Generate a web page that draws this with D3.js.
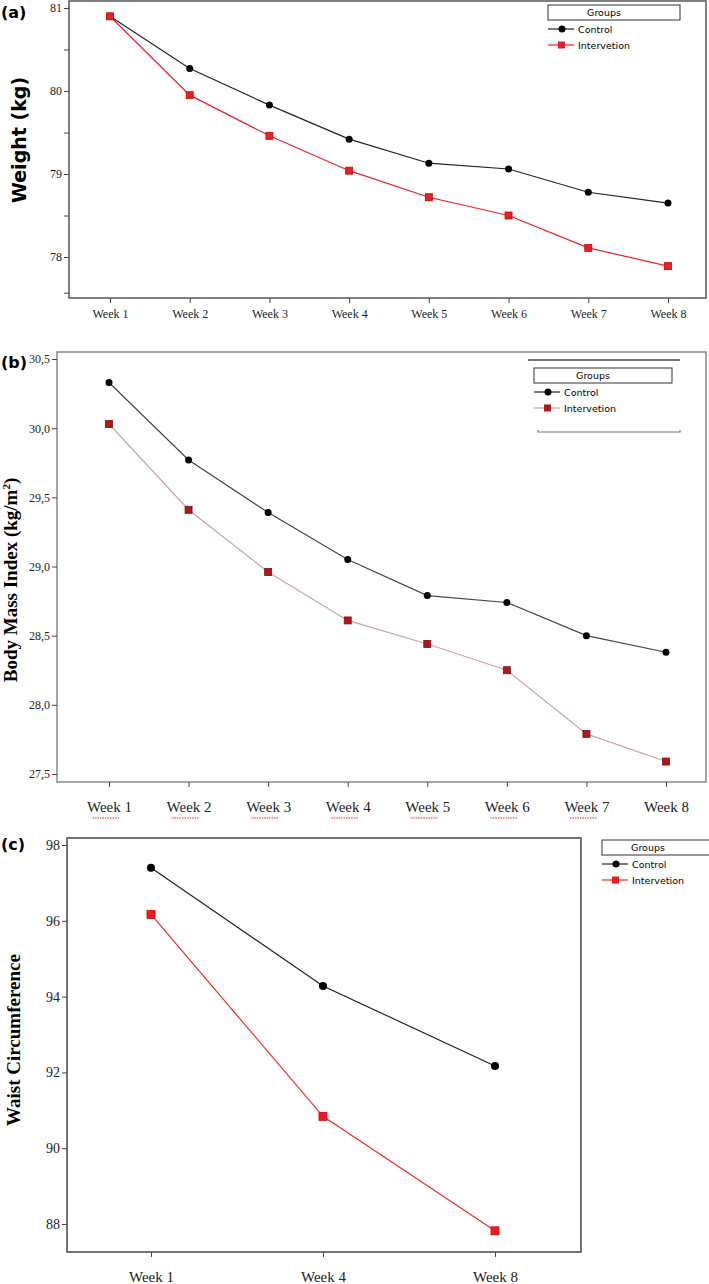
<!DOCTYPE html>
<html>
<head>
<meta charset="utf-8">
<script src="https://cdn.jsdelivr.net/npm/d3@7"></script>
<style>
  body { margin: 0; background: #fff; }
  svg { display: block; }
</style>
</head>
<body>
<div id="chart"></div>
<script>
// Data
const weeks = ['Week 1', 'Week 2', 'Week 3', 'Week 4', 'Week 5', 'Week 6', 'Week 7', 'Week 8'];
const weightControl = [80.9, 80.27, 79.83, 79.42, 79.13, 79.06, 78.78, 78.65];
const weightIntervention = [80.9, 79.95, 79.46, 79.04, 78.72, 78.5, 78.11, 77.89];
const bmiControl = [30.33, 29.77, 29.39, 29.05, 28.79, 28.74, 28.5, 28.38];
const bmiIntervention = [30.03, 29.41, 28.96, 28.61, 28.44, 28.25, 27.79, 27.59];
const waistWeeks = ['Week 1', 'Week 4', 'Week 8'];
const waistControl = [97.4, 94.28, 92.17];
const waistIntervention = [96.17, 90.84, 87.82];
const weightTicks = [81, 80, 79, 78];
const bmiTicks = [30.5, 30.0, 29.5, 29.0, 28.5, 28.0, 27.5];
const waistTicks = [98, 96, 94, 92, 90, 88];

const width = 709;
const height = 1284;

const svg = d3.select('#chart')
    .append('svg')
    .attr('width', width)
    .attr('height', height);

const serif = '"Liberation Serif", "DejaVu Serif", serif';
const sans = '"DejaVu Sans", "Liberation Sans", sans-serif';

function drawPanel(p) {
    const g = svg.append('g');

    const x = d3.scalePoint().domain(p.cats).range(p.xRange);
    const y = d3.scaleLinear().domain(p.yDomain).range(p.yRange);

    // frame
    g.append('rect')
        .attr('x', p.box[0]).attr('y', p.box[1])
        .attr('width', p.box[2] - p.box[0]).attr('height', p.box[3] - p.box[1])
        .attr('fill', 'none')
        .attr('stroke', p.frameColor)
        .attr('stroke-width', 1.5);

    // y axis
    const yAxis = g.append('g')
        .attr('transform', `translate(${p.box[0]},0)`)
        .call(d3.axisLeft(y).tickValues(p.yTicks).tickSize(5).tickPadding(2).tickFormat(p.fmt));
    yAxis.select('.domain').remove();
    yAxis.selectAll('line').attr('stroke', '#444');
    yAxis.selectAll('text')
        .style('font-family', serif)
        .style('font-size', p.tickFont + 'px')
        .attr('fill', '#222');

    // minor ticks
    if (p.minor) {
        g.append('g')
            .attr('transform', `translate(${p.box[0]},0)`)
            .call(d3.axisLeft(y).tickValues(p.minor).tickSize(5).tickFormat(''))
            .call(s => s.select('.domain').remove())
            .selectAll('line').attr('stroke', '#444');
    }

    // x axis
    const xAxis = g.append('g')
        .attr('transform', `translate(0,${p.box[3]})`)
        .call(d3.axisBottom(x).tickSize(5).tickPadding(p.xPad));
    xAxis.select('.domain').remove();
    xAxis.selectAll('line').attr('stroke', '#444');
    xAxis.selectAll('text')
        .style('font-family', serif)
        .style('font-size', p.xFont + 'px')
        .attr('fill', '#222');

    if (p.squiggle) {
        xAxis.selectAll('.tick').filter(d => d !== 'Week 8')
            .append('line')
            .attr('x1', -17).attr('x2', 10)
            .attr('y1', p.xPad + p.xFont + 7).attr('y2', p.xPad + p.xFont + 7)
            .attr('stroke', '#d22')
            .attr('stroke-width', 1)
            .attr('stroke-dasharray', '1.5,1');
    }

    // y label
    g.append('text')
        .attr('transform', `translate(${p.yLabelX},${p.yLabelY}) rotate(-90)`)
        .attr('text-anchor', 'middle')
        .style('font-family', p.yLabelFont)
        .style('font-size', p.yLabelSize + 'px')
        .style('font-weight', 'bold')
        .html(p.yLabel);

    // panel letter
    g.append('text')
        .attr('x', 1).attr('y', p.letterY)
        .style('font-family', sans)
        .style('font-size', '16px')
        .style('font-weight', 'bold')
        .text(p.letter);

    // series
    const line = d3.line()
        .x((d, i) => x(p.cats[i]))
        .y(d => y(d));

    g.append('path')
        .datum(p.control)
        .attr('d', line)
        .attr('fill', 'none')
        .attr('stroke', p.blackLine)
        .attr('stroke-width', 1.2);

    g.append('path')
        .datum(p.intervention)
        .attr('d', line)
        .attr('fill', 'none')
        .attr('stroke', p.redLine)
        .attr('stroke-width', 1.2);

    g.selectAll('circle.c')
        .data(p.control)
        .join('circle')
        .attr('cx', (d, i) => x(p.cats[i]))
        .attr('cy', d => y(d))
        .attr('r', p.mark / 2)
        .attr('fill', '#000');

    g.selectAll('rect.i')
        .data(p.intervention)
        .join('rect')
        .attr('x', (d, i) => x(p.cats[i]) - p.mark / 2)
        .attr('y', d => y(d) - p.mark / 2)
        .attr('width', p.mark)
        .attr('height', p.mark)
        .attr('fill', p.redMark)
        .attr('stroke', p.redMarkStroke)
        .attr('stroke-width', 0.8);

    // legend
    const L = p.legend;
    const lg = g.append('g');
    if (L.topLine) {
        lg.append('line')
            .attr('x1', L.x - 6).attr('x2', L.x + L.w + 8)
            .attr('y1', L.y - 8).attr('y2', L.y - 8)
            .attr('stroke', '#777').attr('stroke-width', 2);
        lg.append('path')
            .attr('d', `M${L.x + 4},${L.y + 62}V${L.y + 64}H${L.x + L.w + 8}V${L.y + 62}`)
            .attr('fill', 'none').attr('stroke', '#777').attr('stroke-width', 1.2);
    }
    lg.append('rect')
        .attr('x', L.x).attr('y', L.y)
        .attr('width', L.w).attr('height', 15)
        .attr('fill', '#fff').attr('stroke', '#333').attr('stroke-width', 1);
    lg.append('text')
        .attr('x', L.x + L.w / 2 - 10).attr('y', L.y + 11)
        .attr('text-anchor', 'middle')
        .style('font-family', sans).style('font-size', '9.5px')
        .text('Groups');
    const items = [
        { name: 'Control', color: '#222', fill: '#000', shape: 'c' },
        { name: 'Intervetion', color: p.redLine, fill: p.redMark, shape: 's' }
    ];
    items.forEach((it, k) => {
        const yy = L.y + 24 + k * 16;
        lg.append('line')
            .attr('x1', L.x).attr('x2', L.x + 26)
            .attr('y1', yy).attr('y2', yy)
            .attr('stroke', it.color).attr('stroke-width', 1.2);
        if (it.shape === 'c') {
            lg.append('circle').attr('cx', L.x + 14).attr('cy', yy).attr('r', 3.5).attr('fill', it.fill);
        } else {
            lg.append('rect').attr('x', L.x + 10).attr('y', yy - 3.5).attr('width', 7).attr('height', 7).attr('fill', it.fill);
        }
        lg.append('text')
            .attr('x', L.x + 30).attr('y', yy + 3.5)
            .style('font-family', sans).style('font-size', '9.5px')
            .text(it.name);
    });
}

const commaFmt = d => d3.format('.1f')(d).replace('.', ',');

// (a) weight
drawPanel({
    letter: '(a)', letterY: 18,
    cats: weeks, xRange: [110, 668],
    yDomain: [81, 78], yRange: [8, 257],
    yTicks: weightTicks, minor: [80.5, 79.5, 78.5, 77.57], fmt: d3.format('d'),
    box: [69, 1, 706, 298], frameColor: '#555',
    tickFont: 12, xFont: 12, xPad: 6, squiggle: false,
    yLabel: 'Weight (kg)', yLabelX: 26, yLabelY: 140, yLabelFont: sans, yLabelSize: 19,
    control: weightControl, intervention: weightIntervention, blackLine: '#222',
    redLine: '#e8202a', redMark: '#e8202a', redMarkStroke: '#c00', mark: 7,
    legend: { x: 548, y: 5, w: 132 }
});

// (b) BMI
drawPanel({
    letter: '(b)', letterY: 368,
    cats: weeks, xRange: [109, 666],
    yDomain: [30.5, 27.5], yRange: [359, 774],
    yTicks: bmiTicks, minor: null, fmt: commaFmt,
    box: [57, 352, 706, 782], frameColor: '#888',
    tickFont: 12, xFont: 15, xPad: 14, squiggle: true,
    yLabel: 'Body Mass Index (kg/m<tspan dy="-7" font-size="11">2</tspan><tspan dy="7">)</tspan>',
    yLabelX: 17, yLabelY: 580, yLabelFont: serif, yLabelSize: 19,
    control: bmiControl, intervention: bmiIntervention, blackLine: '#444',
    redLine: '#c9a3a3', redMark: '#b01818', redMarkStroke: '#7a1010', mark: 7,
    legend: { x: 534, y: 368, w: 138, topLine: true }
});

// (c) waist
drawPanel({
    letter: '(c)', letterY: 850,
    cats: waistWeeks, xRange: [151, 495],
    yDomain: [98, 88], yRange: [845, 1224],
    yTicks: waistTicks, minor: null, fmt: d3.format('d'),
    box: [67, 838, 581, 1252], frameColor: '#444',
    tickFont: 14, xFont: 15, xPad: 14, squiggle: false,
    yLabel: 'Waist Circumference', yLabelX: 20, yLabelY: 1040, yLabelFont: serif, yLabelSize: 19,
    control: waistControl, intervention: waistIntervention, blackLine: '#222',
    redLine: '#ee2a2a', redMark: '#ee1c24', redMarkStroke: '#c00', mark: 8,
    legend: { x: 602, y: 840, w: 112 }
});
</script>
</body>
</html>
